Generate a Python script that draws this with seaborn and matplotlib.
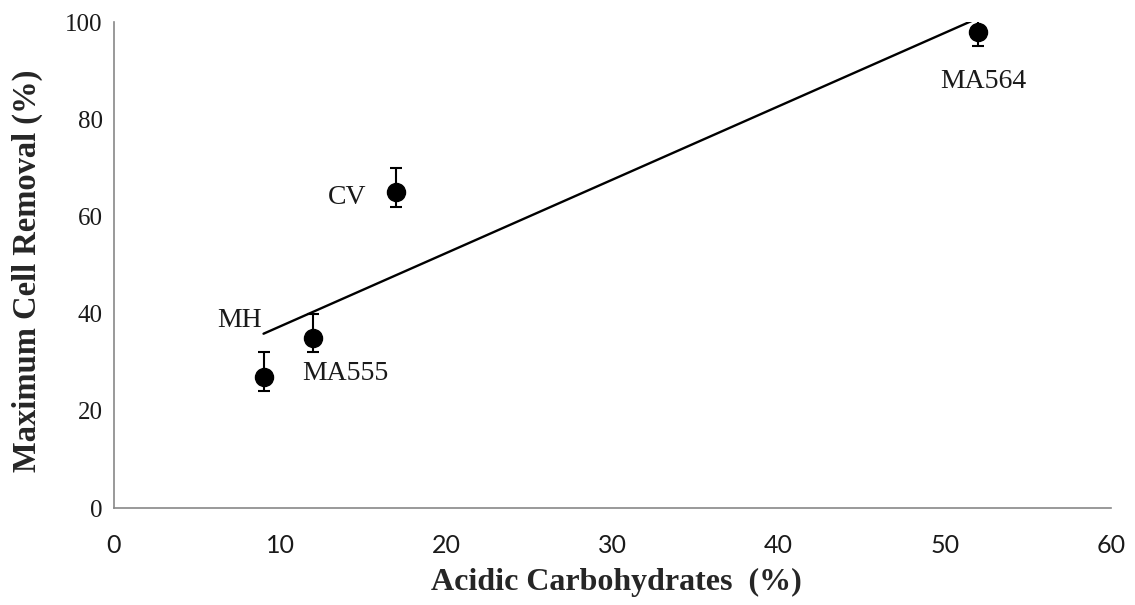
import matplotlib
matplotlib.use("Agg")
import matplotlib.pyplot as plt
import seaborn as sns
import numpy as np

# Data: acidic carbohydrate content vs. maximum cell removal per strain
strains = ["MH", "MA555", "CV", "MA564"]
acidic_carbs = [9, 12, 17, 52]
cell_removal = [27, 35, 65, 98]
err_low = [3, 3, 3, 3]
err_high = [5, 5, 5, 5]

x_ticks = [0, 10, 20, 30, 40, 50, 60]
y_ticks = [0, 20, 40, 60, 80, 100]

# label anchor points (data coordinates) and alignment
label_pos = {
    "MH": (8.9, 38.5, "right"),
    "MA555": (11.3, 27.6, "left"),
    "CV": (15.2, 63.9, "right"),
    "MA564": (52.3, 87.8, "center"),
}

sns.set_theme(style="white")
plt.rcParams["font.family"] = ["Liberation Serif", "DejaVu Serif"]

fig = plt.figure(figsize=(11.35, 6.05), dpi=100)
ax = fig.add_axes([0.1004, 0.1603, 0.8785, 0.8033])

# linear trend fitted across the data range
sns.regplot(x=acidic_carbs, y=cell_removal, ax=ax, scatter=False, ci=None,
            truncate=True, color="black", line_kws={"linewidth": 1.7})

ax.errorbar(acidic_carbs, cell_removal, yerr=[err_low, err_high], fmt="o",
            color="black", markersize=13, elinewidth=1.5, capsize=4.3,
            capthick=1.5, zorder=3)

for name in strains:
    lx, ly, ha = label_pos[name]
    ax.text(lx, ly, name, ha=ha, va="center", fontsize=20, color="#1a1a1a")

ax.set_xlim(0, 60)
ax.set_ylim(0, 100)
ax.set_xticks(x_ticks)
ax.set_yticks(y_ticks)

for side in ["top", "right"]:
    ax.spines[side].set_visible(False)
for side in ["left", "bottom"]:
    ax.spines[side].set_color("#888888")
    ax.spines[side].set_linewidth(1.2)

ax.tick_params(axis="both", which="major", direction="out", length=5,
               width=1.2, color="#888888")
ax.tick_params(axis="x", pad=14, labelsize=17, labelcolor="#1a1a1a")
ax.tick_params(axis="y", pad=3, labelsize=18, labelcolor="#1a1a1a")
for lbl in ax.get_xticklabels():
    lbl.set_fontfamily(["Liberation Sans Narrow", "Lato", "DejaVu Sans"])
    lbl.set_fontsize(18)

ax.set_xlabel("Acidic Carbohydrates  (%)", fontsize=23, fontweight="bold")
ax.set_ylabel("Maximum Cell Removal (%)", fontsize=23.5, fontweight="bold")
ax.xaxis.label.set_va("center")
ax.yaxis.label.set_va("center")
ax.xaxis.set_label_coords(0.504, -0.154)
ax.yaxis.set_label_coords(-0.087, 0.488)

fig.savefig("out.png", dpi=100, facecolor="white")
